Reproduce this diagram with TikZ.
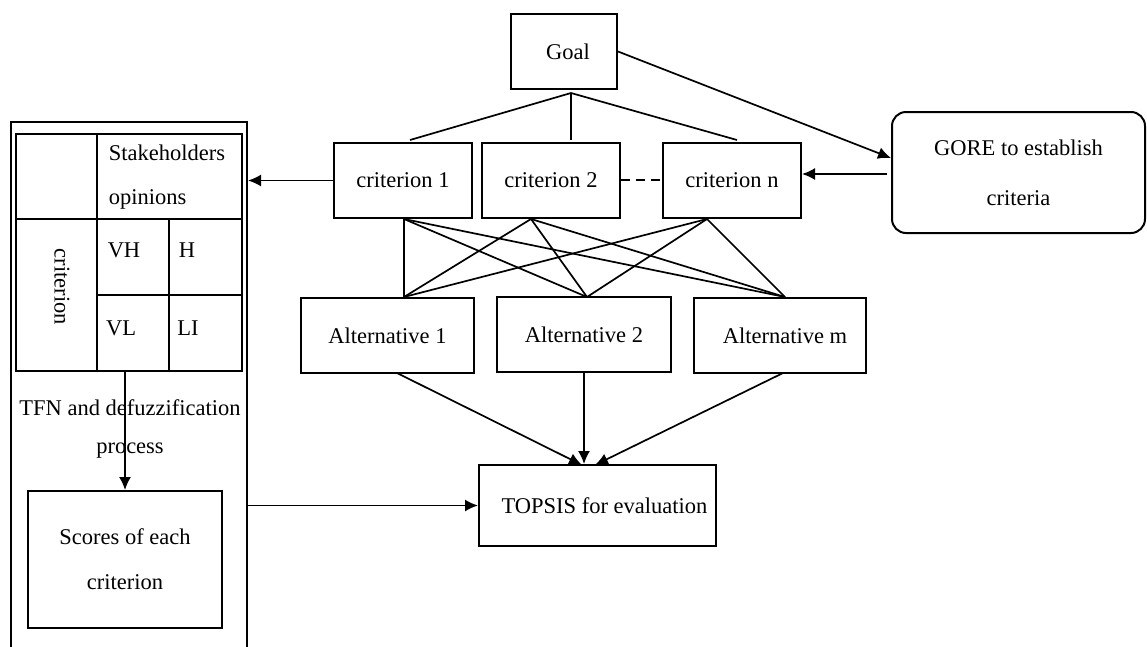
\documentclass[tikz,border=0pt]{standalone}
\usepackage{fontspec}
\setmainfont{Liberation Serif}
\usetikzlibrary{arrows.meta,calc}
\begin{document}
\begin{tikzpicture}[x=1pt,y=-1pt,
  every node/.style={font=\fontsize{22.5}{27}\selectfont},
  box/.style={draw,line width=2pt,inner sep=0pt,align=center},
  ln/.style={line width=1.7pt},
  tl/.style={line width=1.3pt},
  arr/.style={line width=1.7pt,-{Latex[length=13pt,width=12pt]}}]
\useasboundingbox (0,0) rectangle (1147,646);
% left panel
\node[draw,line width=2pt,minimum width=236,minimum height=540,inner sep=0pt] (panel) at (129,392) {};
% table
\draw[tl] (16,134) rectangle (242,371);
\draw[tl] (16,219) -- (242,219);
\draw[tl] (97,295) -- (242,295);
\draw[tl] (97,134) -- (97,371);
\draw[tl] (169,219) -- (169,371);
\node[align=left,font=\fontsize{22.5}{44}\selectfont] (stake) at (167,177) {Stakeholders\\opinions};
\node[rotate=-90] (crit) at (62,287) {criterion};
\node (vh) at (124,250) {VH};
\node (h) at (187,250) {H};
\node (vl) at (121,328) {VL};
\node (li) at (188,328) {LI};
\coordinate (tbot) at (125,371);
\node[align=center,font=\fontsize{22.5}{38}\selectfont] (tfn) at (130,429) {TFN and defuzzification\\process};
\node[box,minimum width=194,minimum height=137,font=\fontsize{22.5}{45}\selectfont] (scores) at (125,559.5) {Scores of each\\criterion};
% main hierarchy
\node[box,minimum width=106,minimum height=75] (goal) at (564,51.5) {\hspace{8pt}Goal};
\node[box,minimum width=138,minimum height=75] (c1) at (403,180.5) {criterion 1};
\node[box,minimum width=138,minimum height=75] (c2) at (551,180) {criterion 2};
\node[box,minimum width=138,minimum height=75] (cn) at (732,180) {criterion n};
\node[box,rounded corners=14pt,minimum width=253,minimum height=121,font=\fontsize{22.5}{50}\selectfont] (gore) at (1018.5,172.5) {GORE to establish\\criteria};
\node[box,minimum width=173,minimum height=75] (a1) at (387.5,335.5) {Alternative 1};
\node[box,minimum width=174,minimum height=75] (a2) at (584,334.5) {Alternative 2};
\node[box,minimum width=172,minimum height=75] (am) at (780,335.5) {\hspace{10pt}Alternative m};
\node[box,minimum width=237,minimum height=81] (topsis) at (597.5,505.5) {\hspace{14pt}TOPSIS for evaluation};
% goal fan
\coordinate (apex) at (571,93);
\coordinate (f1) at (410,140);
\coordinate (f2) at (571,140);
\coordinate (f3) at (737,140);
\draw[ln] (f1) -- (apex) -- (f3);
\draw[ln] (apex) -- (f2);
% criterion -> alternative lines
\coordinate (c1b) at (404,219);
\coordinate (c2b) at (531,219);
\coordinate (cnb) at (707,219);
\coordinate (a1t) at (404,297);
\coordinate (a2t) at (587,297);
\coordinate (amt) at (785,297);
\foreach \s in {c1b,c2b,cnb}{
  \foreach \t in {a1t,a2t,amt}{
    \draw[ln] (\s) -- (\t);
  }
}
% dashed link
\draw[ln,dash pattern=on 9pt off 6pt] (c2.east) -- (cn.west);
% arrows
\draw[arr] (c1.west) -- (panel.east |- c1.west);
\draw[arr] (goal.east) -- ($(gore.west)+(0,-14.5)$);
\draw[arr] ($(gore.west)+(-4,1.5)$) -- ($(cn.east)+(0,-6)$) ;
\draw[arr] (tbot) -- (scores.north);
\draw[arr] (panel.east |- topsis.west) -- (topsis.west);
\coordinate (a1b) at (397,373);
\coordinate (amb) at (783,373);
\draw[arr] (a1b) -- (582,465);
\draw[arr] (a2.south) -- (a2.south |- topsis.north);
\draw[arr] (amb) -- (595,465);
\end{tikzpicture}
\end{document}
